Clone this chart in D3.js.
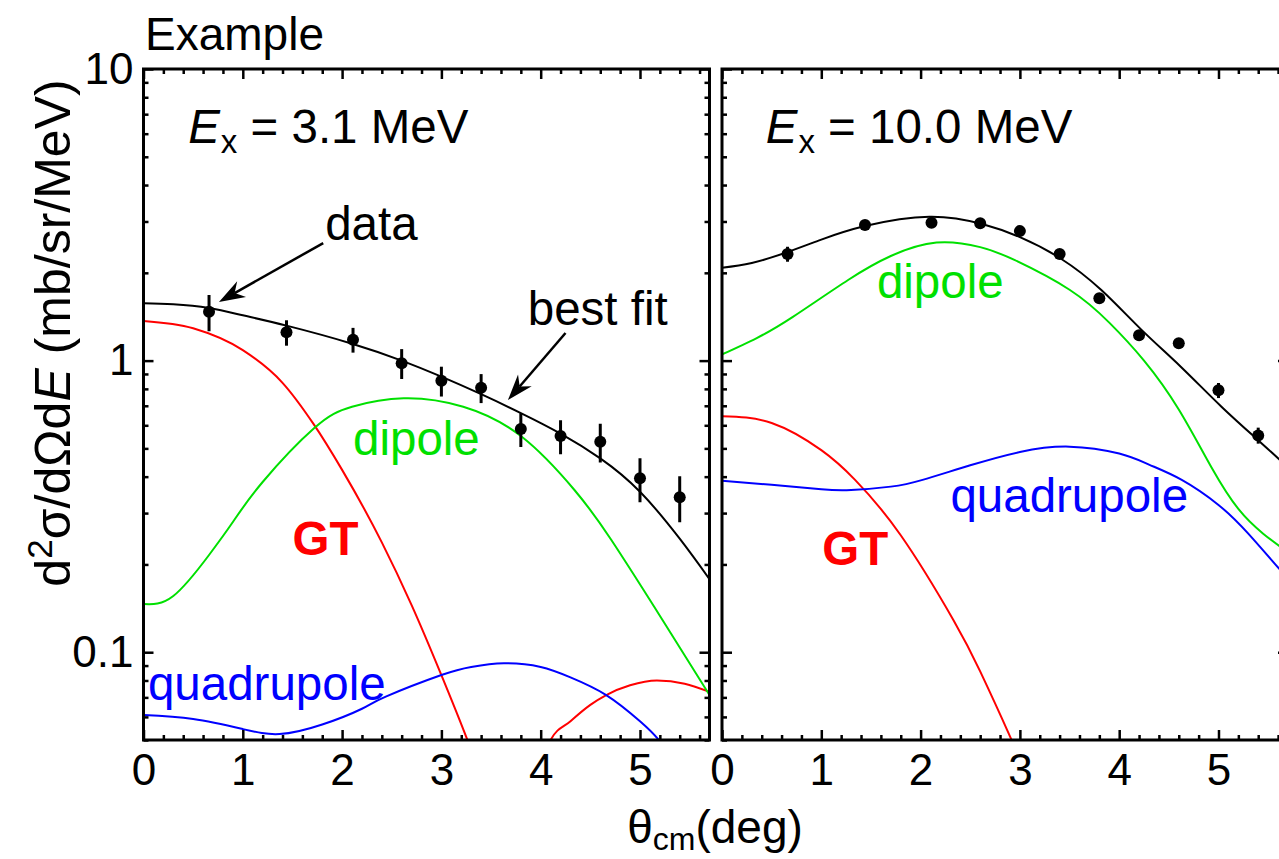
<!DOCTYPE html>
<html>
<head>
<meta charset="utf-8">
<script src="https://cdn.jsdelivr.net/npm/d3@7/dist/d3.min.js"></script>
<style>
  body { margin: 0; background: #fff; }
  svg text { font-family: "Liberation Sans", Arial, Helvetica, sans-serif; fill: #000; }
</style>
</head>
<body>
<div id="chart"></div>
<script>

/*********************************/
/*            The data           */
/*********************************/
// Angles of the measured points (deg), same for both panels
const theta = [0.66, 1.44, 2.11, 2.6, 3.0, 3.4, 3.8, 4.2, 4.6, 5.0, 5.4];

// Ex = 3.1 MeV
const data31 = [1.47, 1.25, 1.18, 0.98, 0.853, 0.807, 0.583, 0.551, 0.527, 0.395, 0.34];
const err31  = [0.21, 0.125, 0.115, 0.115, 0.10, 0.092, 0.077, 0.074, 0.080, 0.068, 0.061];
const fit31 = [[0,1.574],[0.3,1.56],[0.66,1.514],[1.0,1.43],[1.44,1.318],[2.1,1.143],[2.6,1.0],[3.0,0.881],[3.4,0.767],[3.8,0.661],[4.2,0.562],[4.6,0.462],[5.0,0.355],[5.4,0.245],[5.7,0.178]];
const gt31 = [[0,1.368],[0.5,1.291],[1.0,1.086],[1.4,0.839],[1.71,0.608],[2.0,0.422],[2.4,0.238],[2.7,0.145],[3.0,0.0834],[3.28,0.0482],[3.5,0.0302],[3.7,0.0178],[3.85,0.012],[4.0,0.025],[4.1,0.05],[4.3,0.058],[4.5,0.066],[4.66,0.0713],[4.9,0.077],[5.17,0.080],[5.45,0.078],[5.7,0.0731]];
const dipole31 = [[0,0.1463],[0.3,0.1559],[0.66,0.2155],[0.9,0.2795],[1.2,0.3835],[1.72,0.5873],[2.1,0.695],[2.62,0.743],[3.22,0.695],[3.81,0.548],[4.34,0.36],[4.71,0.243],[5.23,0.1285],[5.7,0.0713]];
const quad31 = [[0,0.0609],[0.5,0.059],[1.0,0.0545],[1.37,0.0524],[1.8,0.0565],[2.2,0.064],[2.44,0.0704],[3.0,0.0835],[3.3,0.089],[3.63,0.0916],[4.0,0.089],[4.3,0.082],[4.66,0.0713],[5.0,0.058],[5.19,0.05],[5.4,0.04]];

// Ex = 10.0 MeV
const data100 = [2.32, 2.92, 2.97, 2.96, 2.78, 2.32, 1.636, 1.221, 1.146, 0.791, 0.554];
const err100  = [0.137, 0.115, 0.094, 0.094, 0.088, 0.092, 0.065, 0.048, 0.045, 0.047, 0.035];
const fit100 = [[0,2.083],[0.3,2.16],[0.67,2.363],[1.0,2.6],[1.44,2.894],[2.09,3.115],[2.62,2.94],[3.0,2.65],[3.41,2.24],[3.82,1.746],[4.22,1.28],[4.62,0.953],[5.03,0.695],[5.43,0.522],[5.7,0.43]];
const gt100 = [[0,0.645],[0.5,0.611],[1.0,0.493],[1.34,0.39],[1.8,0.2518],[2.33,0.129],[2.6,0.086],[2.89,0.0524],[3.1,0.0356]];
const dipole100 = [[0,1.05],[0.35,1.195],[0.71,1.41],[1.27,1.89],[1.7,2.284],[2.16,2.54],[2.6,2.45],[2.95,2.21],[3.5,1.75],[3.9,1.35],[4.25,1.0],[4.6,0.68],[4.93,0.43],[5.2,0.31],[5.45,0.255],[5.7,0.22]];
const quad100 = [[0,0.387],[0.5,0.375],[1.0,0.362],[1.3,0.36],[1.7,0.3697],[2.02,0.39],[2.5,0.4375],[3.0,0.486],[3.5,0.507],[4.0,0.48],[4.3,0.44],[4.63,0.39],[5.0,0.32],[5.3,0.255],[5.63,0.19],[5.7,0.18]];

// Axis ticks
const xDomain = [0, 5.7];
const yDomain = [0.05, 10];
const xMajor = [0, 1, 2, 3, 4, 5];
const xMinor = [0.2,0.4,0.6,0.8,1.2,1.4,1.6,1.8,2.2,2.4,2.6,2.8,3.2,3.4,3.6,3.8,4.2,4.4,4.6,4.8,5.2,5.4,5.6];
const yMajor = [0.1, 1, 10];
const yMinor = [0.05,0.06,0.07,0.08,0.09,0.2,0.3,0.4,0.5,0.6,0.7,0.8,0.9,2,3,4,5,6,7,8,9];

const panels = [
  {id: "3.1",  energy: "3.1",  points: data31,  errors: err31,  fit: fit31,  gt: gt31,  dipole: dipole31,  quad: quad31},
  {id: "10.0", energy: "10.0", points: data100, errors: err100, fit: fit100, gt: gt100, dipole: dipole100, quad: quad100},
];

// Annotation anchors, in data units (x deg, y mb/sr/MeV)
const labels31  = {ex: [0.45, 5.56], dipole: [2.11, 0.474], gt: [1.5, 0.2154], quad: [0.045, 0.0688]};
const labels100 = {ex: [0.44, 5.56], dipole: [1.56, 1.64],  gt: [1.01, 0.199], quad: [2.3, 0.3025]};
const arrows31 = [
  {text: "data",     label: [1.83, 2.59],  tail: [1.81, 2.53], tip: [0.76, 1.589]},
  {text: "best fit", label: [3.87, 1.325], tail: [4.25, 1.243], tip: [3.67, 0.732]},
];


/*******************************/
/*    Declare the constants    */
/*******************************/
const width = 1279;
const height = 859;
const plotTop = 69;
const plotBottom = 740;
const panelWidth = 566;
const panelLefts = [143.5, 722];
const fontSize = 47.5;
const subSize = 33;

const colors = {fit: "#000", gt: "#ff0000", dipole: "#00e000", quad: "#0000ff"};

const svg = d3.select("#chart")
  .append("svg")
    .attr("width", width)
    .attr("height", height);

const yScale = d3.scaleLog()
  .domain(yDomain)
  .range([plotBottom, plotTop]);


/*******************************/
/*        Draw each panel      */
/*******************************/
panels.forEach((panel, i) => {
  const left = panelLefts[i];
  const xScale = d3.scaleLinear()
    .domain(xDomain)
    .range([left, left + panelWidth]);

  const g = svg.append("g").attr("class", `panel-${i}`);

  // clip for curves
  svg.append("clipPath")
      .attr("id", `clip-${i}`)
    .append("rect")
      .attr("x", left)
      .attr("y", plotTop)
      .attr("width", panelWidth)
      .attr("height", plotBottom - plotTop);

  const smoothLine = d3.line()
    .x(d => xScale(d[0]))
    .y(d => yScale(d[1]))
    .curve(d3.curveNatural);
  // GT has a sharp diffraction minimum, keep it from overshooting
  const gtLine = d3.line()
    .x(d => xScale(d[0]))
    .y(d => yScale(d[1]))
    .curve(i === 0 ? d3.curveMonotoneX : d3.curveNatural);

  const curves = g.append("g").attr("clip-path", `url(#clip-${i})`);
  [["gt", panel.gt], ["dipole", panel.dipole], ["quad", panel.quad], ["fit", panel.fit]].forEach(([key, pts]) => {
    curves.append("path")
      .attr("d", key === "gt" ? gtLine(pts) : smoothLine(pts))
      .attr("fill", "none")
      .attr("stroke", colors[key])
      .attr("stroke-width", 2);
  });

  // error bars + points
  const pts = theta.map((t, k) => ({t, v: panel.points[k], e: panel.errors[k]}));
  curves.selectAll(".err")
    .data(pts)
    .join("line")
      .attr("x1", d => xScale(d.t))
      .attr("x2", d => xScale(d.t))
      .attr("y1", d => yScale(d.v - d.e))
      .attr("y2", d => yScale(d.v + d.e))
      .attr("stroke", "#000")
      .attr("stroke-width", 3);
  curves.selectAll(".pt")
    .data(pts)
    .join("circle")
      .attr("cx", d => xScale(d.t))
      .attr("cy", d => yScale(d.v))
      .attr("r", 6)
      .attr("fill", "#000");

  // axes (ticks point inward)
  const styleAxis = sel => {
    sel.select(".domain").remove();
    sel.selectAll(".tick line").attr("stroke", "#000").attr("stroke-width", 2.5);
    sel.selectAll("text").attr("font-size", 44).attr("fill", "#000")
      .attr("font-family", '"Liberation Sans", Arial, sans-serif');
  };
  g.append("g")
      .attr("transform", `translate(0, ${plotBottom})`)
      .call(d3.axisBottom(xScale).tickValues(xMajor).tickSize(-10).tickPadding(14).tickFormat(d3.format("d")))
      .call(styleAxis);
  g.append("g")
      .attr("transform", `translate(0, ${plotBottom})`)
      .call(d3.axisBottom(xScale).tickValues(xMinor).tickSize(-5).tickFormat(""))
      .call(styleAxis);
  g.append("g")
      .attr("transform", `translate(0, ${plotTop})`)
      .call(d3.axisTop(xScale).tickValues(xMajor).tickSize(-10).tickFormat(""))
      .call(styleAxis);
  g.append("g")
      .attr("transform", `translate(0, ${plotTop})`)
      .call(d3.axisTop(xScale).tickValues(xMinor).tickSize(-5).tickFormat(""))
      .call(styleAxis);

  g.append("g")
      .attr("transform", `translate(${left}, 0)`)
      .call(d3.axisLeft(yScale).tickValues(yMajor).tickSize(-10).tickPadding(10)
        .tickFormat(i === 0 ? d => d3.format("~g")(d) : ""))
      .call(styleAxis);
  g.append("g")
      .attr("transform", `translate(${left}, 0)`)
      .call(d3.axisLeft(yScale).tickValues(yMinor).tickSize(-5).tickFormat(""))
      .call(styleAxis);
  g.append("g")
      .attr("transform", `translate(${left + panelWidth}, 0)`)
      .call(d3.axisRight(yScale).tickValues(yMajor).tickSize(-10).tickFormat(""))
      .call(styleAxis);
  g.append("g")
      .attr("transform", `translate(${left + panelWidth}, 0)`)
      .call(d3.axisRight(yScale).tickValues(yMinor).tickSize(-5).tickFormat(""))
      .call(styleAxis);

  // frame
  g.append("rect")
    .attr("x", left)
    .attr("y", plotTop)
    .attr("width", panelWidth)
    .attr("height", plotBottom - plotTop)
    .attr("fill", "none")
    .attr("stroke", "#000")
    .attr("stroke-width", 3);

  // Ex label
  const lab = i === 0 ? labels31 : labels100;
  const ex = g.append("text")
    .attr("x", xScale(lab.ex[0]))
    .attr("y", yScale(lab.ex[1]))
    .attr("font-size", fontSize);
  ex.append("tspan").attr("font-style", "italic").text("E");
  ex.append("tspan").attr("font-size", subSize).attr("dx", 1).attr("dy", 10).text("x");
  ex.append("tspan").attr("dy", -10).text(` = ${panel.energy} MeV`);

  // component labels
  const addLabel = (pos, text, color, bold) => g.append("text")
    .attr("x", xScale(pos[0]))
    .attr("y", yScale(pos[1]))
    .attr("font-size", fontSize)
    .attr("font-weight", bold ? "bold" : "normal")
    .style("fill", color)
    .text(text);
  addLabel(lab.dipole, "dipole", colors.dipole, false);
  addLabel(lab.gt, "GT", colors.gt, true);
  addLabel(lab.quad, "quadrupole", colors.quad, false);

  // arrows (left panel only)
  if (i === 0) {
    arrows31.forEach(a => {
      const tx = xScale(a.tip[0]), ty = yScale(a.tip[1]);
      const sx = xScale(a.tail[0]), sy = yScale(a.tail[1]);
      const len = Math.hypot(tx - sx, ty - sy);
      const ux = (tx - sx) / len, uy = (ty - sy) / len;
      const nx = -uy, ny = ux;
      const L = 26, W = 9, notch = 8;
      g.append("line")
        .attr("x1", sx).attr("y1", sy)
        .attr("x2", tx - ux * (L - notch)).attr("y2", ty - uy * (L - notch))
        .attr("stroke", "#000")
        .attr("stroke-width", 2.5);
      g.append("path")
        .attr("d", `M${tx},${ty}L${tx - ux * L + nx * W},${ty - uy * L + ny * W}` +
          `L${tx - ux * (L - notch)},${ty - uy * (L - notch)}` +
          `L${tx - ux * L - nx * W},${ty - uy * L - ny * W}Z`)
        .attr("fill", "#000");
      g.append("text")
        .attr("x", xScale(a.label[0]))
        .attr("y", yScale(a.label[1]))
        .attr("font-size", fontSize)
        .text(a.text);
    });
  }
});


/*******************************/
/*       Titles and labels     */
/*******************************/
svg.append("text")
  .attr("x", 145)
  .attr("y", 50)
  .attr("font-size", 46)
  .text("Example");

const yTitle = svg.append("text")
  .attr("transform", "translate(70, 333) rotate(-90)")
  .attr("text-anchor", "middle")
  .attr("font-size", 50);
yTitle.append("tspan").text("d");
yTitle.append("tspan").attr("font-size", 35).attr("dy", -18).text("2");
yTitle.append("tspan").attr("dy", 18).text("σ/dΩd");
yTitle.append("tspan").attr("font-style", "italic").text("E");
yTitle.append("tspan").text(" (mb/sr/MeV)");

const xTitle = svg.append("text")
  .attr("x", 715)
  .attr("y", 843)
  .attr("text-anchor", "middle")
  .attr("font-size", 46);
xTitle.append("tspan").text("θ");
xTitle.append("tspan").attr("font-size", 32).attr("dy", 7).text("cm");
xTitle.append("tspan").attr("dy", -7).text("(deg)");

</script>
</body>
</html>
